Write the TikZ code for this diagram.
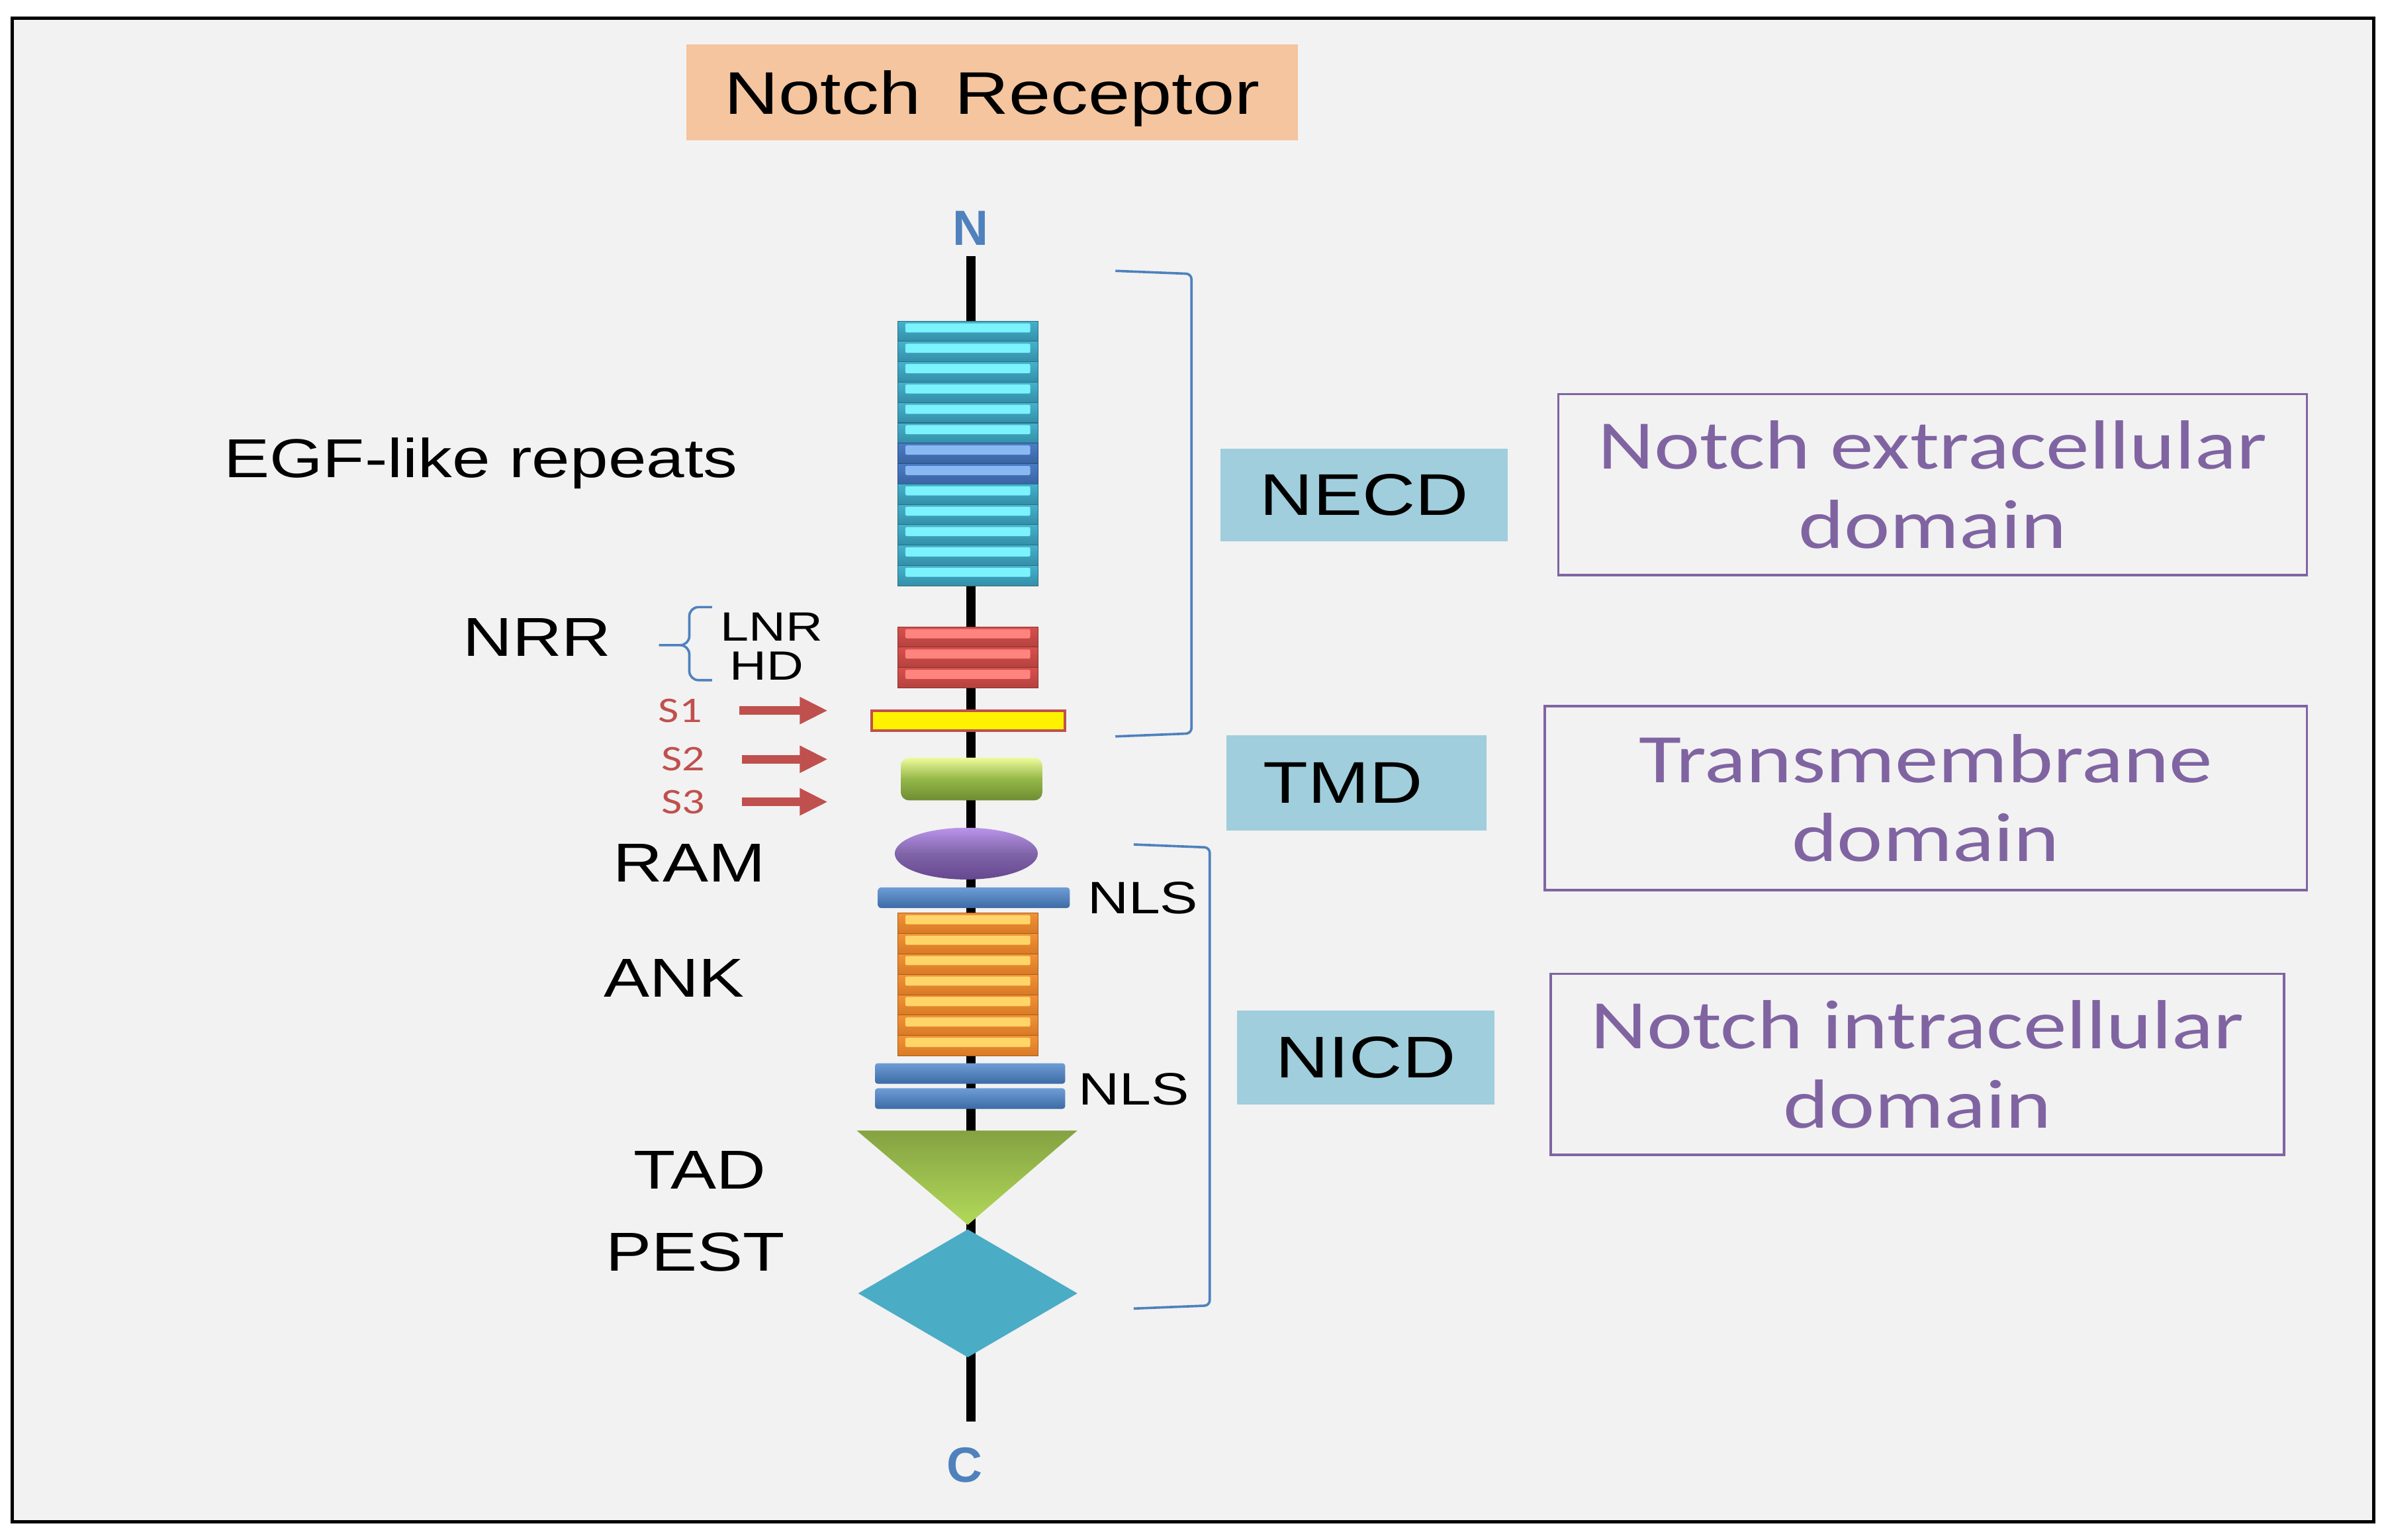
\documentclass[tikz,border=0pt]{standalone}
\usepackage{fontspec}
\setmainfont{Liberation Sans}
\newfontfamily\calibri{Carlito}
\usetikzlibrary{arrows,arrows.meta,positioning,shapes.geometric}

\definecolor{paper}{HTML}{F2F2F2}
\definecolor{peach}{HTML}{F5C59F}
\definecolor{domfill}{HTML}{A0CEDC}
\definecolor{lilac}{HTML}{8064A2}
\definecolor{linkblue}{HTML}{4F81BD}
\definecolor{cutred}{HTML}{C0504D}
\definecolor{egfhi}{HTML}{7CF2FC}
\definecolor{egfmid}{HTML}{44B2CE}
\definecolor{egflo}{HTML}{348EA7}
\definecolor{egfedge}{HTML}{2A6E80}
\definecolor{egfdhi}{HTML}{8AB8F2}
\definecolor{egfdmid}{HTML}{4A7CC4}
\definecolor{egfdlo}{HTML}{3A64A3}
\definecolor{egfdedge}{HTML}{2B4B7E}
\definecolor{lnrhi}{HTML}{FF8480}
\definecolor{lnrmid}{HTML}{D8504C}
\definecolor{lnrlo}{HTML}{B4423F}
\definecolor{lnredge}{HTML}{8A302E}
\definecolor{ankhi}{HTML}{FFD56A}
\definecolor{ankmid}{HTML}{F29235}
\definecolor{anklo}{HTML}{D87A26}
\definecolor{ankedge}{HTML}{A85C1C}
\definecolor{tmdhi}{HTML}{EEFA9C}
\definecolor{tmdmid}{HTML}{94B848}
\definecolor{tmdlo}{HTML}{6E8C32}
\definecolor{ramhi}{HTML}{B994EA}
\definecolor{rammid}{HTML}{8064A8}
\definecolor{ramlo}{HTML}{654790}
\definecolor{nlshi}{HTML}{6E9DD6}
\definecolor{nlslo}{HTML}{3C6AA5}
\definecolor{tadtop}{HTML}{84A242}
\definecolor{tadbot}{HTML}{B2D95A}
\definecolor{pestfill}{HTML}{4BACC6}

\newcommand{\wide}[1]{\scalebox{1.25}[1]{#1}}

\begin{document}
\begin{tikzpicture}[x=0.02cm,y=-0.02cm,>=stealth',node distance=0.2cm]
\tikzstyle{lbl}=[inner sep=0pt,font=\fontsize{20.5}{24}\selectfont]
\tikzstyle{sublbl}=[inner sep=0pt,font=\fontsize{15.3}{18}\selectfont]
\tikzstyle{cutlbl}=[inner sep=0pt,text=cutred,font=\calibri\fontsize{13.5}{16}\selectfont]
\tikzstyle{termlbl}=[inner sep=0pt,text=linkblue,font=\bfseries\fontsize{18.5}{22}\selectfont]
\tikzstyle{dombox}=[fill=domfill,inner sep=0pt,font=\fontsize{22}{26}\selectfont]
\tikzstyle{namebox}=[draw=lilac,line width=0.9pt,text=lilac,align=center,inner sep=0pt,
                     font=\calibri\fontsize{26}{29.6}\selectfont]
\tikzstyle{brkt}=[draw=linkblue,line width=0.9pt,rounded corners=2pt]
\tikzstyle{curly}=[draw=linkblue,line width=0.9pt]
\tikzstyle{backbone}=[line width=3.5pt,black]
\tikzstyle{cleave}=[draw=cutred,line width=3.3pt,-{Triangle[length=10.5pt,width=9.5pt]},shorten <=0.48cm]
\tikzstyle{egf}=[top color=egfmid,bottom color=egflo,draw=egfedge,line width=0.25pt]
\tikzstyle{egfdark}=[top color=egfdmid,bottom color=egfdlo,draw=egfdedge,line width=0.25pt]
\tikzstyle{lnr}=[top color=lnrmid,bottom color=lnrlo,draw=lnredge,line width=0.25pt]
\tikzstyle{ank}=[top color=ankmid,bottom color=anklo,draw=ankedge,line width=0.25pt]
\tikzstyle{nls}=[top color=nlshi,bottom color=nlslo,rounded corners=1pt,inner sep=0pt,minimum height=0.27cm]

% frame
\useasboundingbox (0,0) rectangle (1568,1012);
\fill[white] (0,0) rectangle (1568,1012);
\draw[fill=paper,line width=1.2pt] (8,12) rectangle (1560,1000);

% title
\node[fill=peach,minimum width=8.04cm,minimum height=1.26cm,text depth=0pt,
      font=\fontsize{22.5}{27}\selectfont] (title) at (652,60.5) {\wide{Notch\hspace{0.45em}Receptor}};

% termini and backbone
\node[termlbl] (nterm) at (638,150) {N};
\node[termlbl] (cterm) at (634,963) {C};
\draw[backbone,shorten <=0.14cm,shorten >=0.34cm] (nterm.south) -- (nterm.south |- cterm.north);

% EGF-like repeats
\foreach \i/\rs/\hs in {0/egf/egfhi,1/egf/egfhi,2/egf/egfhi,3/egf/egfhi,4/egf/egfhi,5/egf/egfhi,
                        6/egfdark/egfdhi,7/egfdark/egfdhi,8/egf/egfhi,9/egf/egfhi,10/egf/egfhi,
                        11/egf/egfhi,12/egf/egfhi}{
  \path[\rs] (590,211+13.385*\i) rectangle (682,224.385+13.385*\i);
  \fill[\hs,rounded corners=0.5pt] (595,212.5+13.385*\i) rectangle (677,218.5+13.385*\i);
}

% NRR
\foreach \i in {0,1,2}{
  \path[lnr] (590,412+13.33*\i) rectangle (682,425.33+13.33*\i);
  \fill[lnrhi,rounded corners=0.5pt] (595,413.5+13.33*\i) rectangle (677,419.5+13.33*\i);
}
\node[fill=yellow,draw=cutred,line width=1pt,minimum width=2.54cm,minimum height=0.26cm,
      inner sep=0pt] (s1site) at (636.5,473.5) {};

% TMD, RAM
\node[top color=tmdhi,bottom color=tmdlo,middle color=tmdmid,rounded corners=3pt,
      minimum width=1.86cm,minimum height=0.56cm,inner sep=0pt] (tmd) at (638.5,512) {};
\node[ellipse,top color=ramhi,bottom color=ramlo,middle color=rammid,minimum width=1.88cm,
      minimum height=0.68cm,inner sep=0pt] (ram) at (635,561) {};

% NLS and ankyrin repeats
\node[nls,minimum width=2.52cm] (nls1) at (640,590) {};
\foreach \i in {0,...,6}{
  \path[ank] (590,600+13.43*\i) rectangle (682,613.43+13.43*\i);
  \fill[ankhi,rounded corners=0.5pt] (595,601.5+13.43*\i) rectangle (677,607.5+13.43*\i);
}
\node[nls,minimum width=2.5cm] (nls2) at (637.5,705.5) {};
\node[nls,minimum width=2.5cm] (nls3) at (637.5,722) {};

% TAD, PEST
\shade[top color=tadtop,bottom color=tadbot] (563,743) -- (708,743) -- (636,805) -- cycle;
\fill[pestfill] (564,850) -- (636,808) -- (708,850) -- (636,892) -- cycle;

% left labels
\node[lbl,anchor=base] (egflbl) at (316,314) {\wide{EGF-like repeats}};
\node[lbl] (nrrlbl) at (353,419) {\wide{NRR}};
\node[sublbl] (lnrlbl) at (507,412) {\wide{LNR}};
\node[sublbl,below=0.13cm of lnrlbl,xshift=-0.06cm] (hdlbl) {\wide{HD}};
\draw[curly] (468,399) -- (459,399) to[out=180,in=90] (453,405) -- (453,418)
             to[out=-90,in=0] (447,424) -- (433,424);
\draw[curly] (447,424) to[out=0,in=90] (453,430) -- (453,441)
             to[out=-90,in=180] (459,447) -- (468,447);
\node[lbl] (ramlbl) at (453,567) {\wide{RAM}};
\node[lbl] (anklbl) at (443,643) {\wide{ANK}};
\node[lbl] (tadlbl) at (460,769) {\wide{TAD}};
\node[lbl] (pestlbl) at (457,823) {\wide{PEST}};
\node[lbl,font=\fontsize{17}{20}\selectfont,right=0.22cm of nls1] (nlslbl1) {\wide{NLS}};
\node[lbl,font=\fontsize{17}{20}\selectfont] (nlslbl2) at (745,716) {\wide{NLS}};

% cleavage sites
\node[cutlbl] (s1) at (447,467) {\wide{S1}};
\node[cutlbl] (s2) at (449,499) {\wide{S2}};
\node[cutlbl] (s3) at (449,527) {\wide{S3}};
\coordinate (s1tip) at (544,467);
\coordinate (s2tip) at (544,499);
\coordinate (s3tip) at (544,527);
\draw[cleave] (s1) -- (s1tip);
\draw[cleave] (s2) -- (s2tip);
\draw[cleave] (s3) -- (s3tip);

% domains
\draw[brkt] (733,178) -- (783,180) -- (783,482) -- (733,484);
\draw[brkt] (745,555) -- (795,557) -- (795,858) -- (745,860);
\node[dombox,minimum width=3.78cm,minimum height=1.22cm] (necd) at (896.5,325.5) {\wide{NECD}};
\node[dombox,minimum width=3.42cm,minimum height=1.26cm] (tmdbox) at (891.5,514.5) {\wide{TMD}\hspace*{0.36cm}};
\node[dombox,minimum width=3.38cm,minimum height=1.24cm] (nicd) at (897.5,695) {\wide{NICD}};
\node[namebox,minimum width=9.84cm,minimum height=2.38cm] (extra) at (1270,318.5)
     {\wide{Notch extracellular}\\\wide{domain}};
\node[namebox,minimum width=10.02cm,minimum height=2.42cm] (trans) at (1265.5,524.5)
     {\wide{Transmembrane}\\\wide{domain}};
\node[namebox,minimum width=9.64cm,minimum height=2.38cm] (intra) at (1260,699.5)
     {\wide{Notch intracellular}\\\wide{domain}};
\end{tikzpicture}
\end{document}
